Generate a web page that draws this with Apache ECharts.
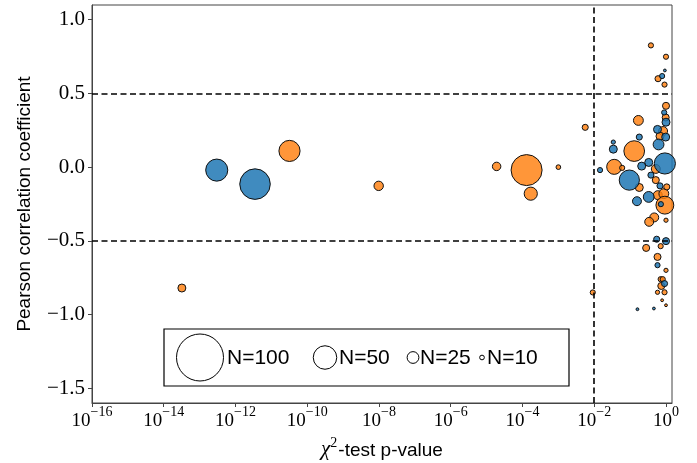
<!DOCTYPE html>
<html><head><meta charset="utf-8">
<script src="https://cdn.jsdelivr.net/npm/echarts@6/dist/echarts.min.js"></script>
<style>html,body{margin:0;padding:0;background:#fff}#c{width:697px;height:463px}</style>
</head><body><div id="c"></div>
<script>
// ---- data ----
const xTicks = [1e-16, 1e-14, 1e-12, 1e-10, 1e-8, 1e-6, 1e-4, 1e-2, 1];
const yTicks = [-1.5, -1.0, -0.5, 0.0, 0.5, 1.0];
const legendN = [100, 50, 25, 10];
const legendLabels = ['N=100', 'N=50', 'N=25', 'N=10'];

const orangeP = [3.2e-14, 3.2e-11, 9.8e-9, 1.9e-5, 1.3e-4, 1.7e-4, 1.0e-3, 5.6e-3, 9.1e-3,
  0.38, 1.0, 0.60, 0.91, 1.0, 0.98, 0.17, 0.83, 0.68, 0.13, 0.036, 0.06, 0.18, 0.59, 0.87,
  0.52, 0.52, 1.05, 0.93, 0.47, 0.34, 1.0, 0.28, 0.71, 0.58, 1.0, 0.71, 0.81, 0.74, 0.58, 0.91, 0.78, 1.0];
const orangeR = [-0.82, 0.11, -0.127, 0.005, -0.02, -0.18, 0.0, 0.27, -0.85,
  0.826, 0.749, 0.60, 0.56, 0.416, 0.337, 0.317, 0.245, 0.21, 0.109, 0.002, -0.005, -0.138, -0.19, -0.18,
  -0.012, -0.088, -0.134, -0.258, -0.341, -0.371, -0.36, -0.548, -0.536, -0.609, -0.70, -0.76, -0.76, -0.806, -0.849, -0.849, -0.903, -0.937];
const orangeN = [17, 45, 20, 18, 66, 28, 10, 13, 11,
  11, 11, 13, 11, 15, 15, 21, 19, 17, 44, 32, 11, 17, 19, 21,
  19, 15, 13, 38, 19, 19, 9, 15, 11, 15, 9, 11, 11, 15, 9, 11, 6, 6];

const blueP = [3.0e-13, 3.5e-12,
  0.93, 0.78, 0.89, 1.0, 0.58, 0.18, 0.98, 0.034, 0.034, 0.62, 0.0145, 0.095, 0.155, 0.33,
  0.21, 0.33, 0.93, 0.38, 0.68, 0.72, 0.55, 1.0, 0.58, 0.91, 0.16, 0.46];
const blueR = [-0.02, -0.115,
  0.656, 0.618, 0.371, 0.305, 0.256, 0.204, 0.204, 0.17, 0.122, 0.154, -0.02, -0.088, -0.231, -0.202,
  0.007, 0.032, 0.025, -0.054, -0.127, -0.251, -0.489, -0.502, -0.665, -0.79, -0.964, -0.959];
const blueN = [47, 65,
  6, 11, 11, 17, 17, 13, 17, 9, 17, 23, 11, 43, 19, 23,
  17, 17, 45, 13, 13, 11, 13, 15, 11, 13, 6, 6];

// ---- chart ----
const sizeOf = n => n * 0.47;
const pts = (P, R, N) => P.map((p, i) => [p, R[i], N[i]]);
const chart = echarts.init(document.getElementById('c'), null, {renderer: 'canvas'});

const serif = 'Liberation Serif';
const sans = 'Liberation Sans';

const sup = v => {
  const e = Math.round(Math.log10(v));
  return '{b|10}{s|' + (e < 0 ? '\u2212' + (-e) : e) + '}';
};

const G = {left: 92, right: 672, top: 5, bottom: 403};
const legendX = [200, 325, 413, 482];
const legendTextX = [227, 339, 420, 487];
const graphics = [{
  type: 'rect', shape: {x: 164, y: 329, width: 405, height: 57},
  style: {fill: '#fff', stroke: '#000', lineWidth: 1.2}, z: 100
}];
legendN.forEach((n, i) => {
  graphics.push({type: 'circle', shape: {cx: legendX[i], cy: 357.5, r: sizeOf(n) / 2},
    style: {fill: '#fff', stroke: '#000', lineWidth: 1}, z: 101});
  graphics.push({type: 'text', x: legendTextX[i], y: 358,
    style: {text: legendLabels[i], font: '21px ' + sans, fill: '#000', textVerticalAlign: 'middle'}, z: 101});
});

chart.setOption({
  animation: false,
  backgroundColor: '#fff',
  grid: {left: G.left, right: 697 - G.right, top: G.top, bottom: 463 - G.bottom, show: true,
    borderColor: '#444', borderWidth: 1, containLabel: false, outerBoundsMode: 'none'},
  xAxis: {
    type: 'log', logBase: 10, min: 1e-16, max: 1.47,
    name: '{i|\u03C7}{s|2}{n|-test p-value}', nameLocation: 'middle', nameGap: 28,
    nameTextStyle: {color: '#000', rich: {
      i: {fontFamily: serif, fontStyle: 'italic', fontSize: 21, color: '#000', lineHeight: 24, verticalAlign: 'bottom'},
      s: {fontFamily: serif, fontSize: 14, color: '#000', lineHeight: 14, verticalAlign: 'top', padding: [0, 1, 0, 0]},
      n: {fontFamily: sans, fontSize: 19, color: '#000', lineHeight: 24, verticalAlign: 'bottom'}
    }},
    axisLine: {show: true, onZero: false, lineStyle: {color: '#444', width: 1}},
    axisTick: {show: true, length: 4, inside: false, lineStyle: {color: '#444'}, customValues: xTicks},
    minorTick: {show: false},
    splitLine: {show: false},
    axisLabel: {customValues: xTicks, formatter: sup, margin: 2, color: '#000',
      rich: {b: {fontFamily: serif, fontSize: 19, color: '#000', lineHeight: 26, verticalAlign: 'bottom'},
             s: {fontFamily: serif, fontSize: 14, color: '#000', lineHeight: 14, verticalAlign: 'top'}}}
  },
  yAxis: {
    type: 'value', min: -1.6, max: 1.1,
    name: 'Pearson correlation coefficient', nameLocation: 'middle', nameGap: 58,
    nameTextStyle: {fontFamily: sans, fontSize: 19, color: '#000'},
    axisLine: {show: true, onZero: false, lineStyle: {color: '#444', width: 1}},
    axisTick: {show: true, length: 4, lineStyle: {color: '#444'}, customValues: yTicks},
    splitLine: {show: false},
    axisLabel: {customValues: yTicks, margin: 7, color: '#000', fontFamily: serif, fontSize: 21,
      formatter: v => v.toFixed(1).replace('-', '\u2212')}
  },
  series: [
    {type: 'scatter', data: pts(orangeP, orangeR, orangeN), symbolSize: d => sizeOf(d[2]),
      itemStyle: {color: 'rgba(255,127,14,0.82)', borderColor: '#111', borderWidth: 1, opacity: 1}, z: 2},
    {type: 'scatter', data: pts(blueP, blueR, blueN), symbolSize: d => sizeOf(d[2]),
      itemStyle: {color: 'rgba(31,119,180,0.85)', borderColor: '#111', borderWidth: 1, opacity: 1}, z: 2},
    {type: 'line', data: [], z: 5, silent: true,
      markLine: {silent: true, symbol: 'none', animation: false, label: {show: false},
        lineStyle: {color: '#000', type: [6, 3.5], width: 1.6},
        data: [{yAxis: 0.5}, {yAxis: -0.5}, {xAxis: 0.01}]}}
  ],
  graphic: graphics
});
</script>
</body></html>
